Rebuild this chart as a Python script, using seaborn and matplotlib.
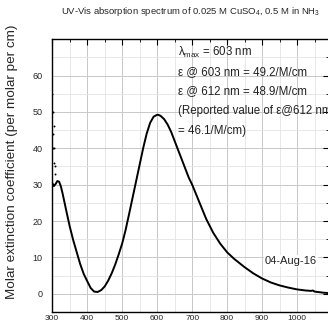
# -*- coding: utf-8 -*-
"""
    UV-Vis absorption spectrum of tetraammine copper(II)
"""
import numpy as np
import pandas as pd
import seaborn as sns
import matplotlib.pyplot as plt
from matplotlib.ticker import MultipleLocator

# Spectrum
wavelength = [300, 305, 310, 315, 320, 325, 330, 340, 350, 360, 370, 380, 390,
              400, 410, 420, 430, 440, 450, 460, 470, 480, 490, 500, 510, 520,
              530, 540, 550, 560, 570, 580, 590, 600, 603, 610, 620, 630, 640,
              650, 660, 670, 680, 690, 700, 720, 740, 760, 780, 800, 820, 850,
              875, 900, 925, 950, 975, 1000, 1025, 1040, 1045, 1050, 1075, 1090]
epsilon = [30.5, 29.6, 30.2, 31.0, 30.8, 29.5, 27.5, 23.0, 18.6, 14.8, 11.5, 8.2,
           5.5, 3.5, 1.6, 0.6, 0.5, 1.0, 2.0, 3.6, 5.6, 8.0, 10.8, 13.8, 17.6,
           22.0, 26.5, 31.0, 35.5, 40.0, 44.0, 47.0, 48.7, 49.2, 49.2, 48.9,
           48.0, 46.5, 44.5, 42.0, 39.5, 37.0, 34.5, 32.0, 30.0, 25.3, 20.6,
           16.8, 13.8, 11.4, 9.6, 7.3, 5.6, 4.2, 3.1, 2.3, 1.7, 1.2, 0.9, 0.8,
           0.9, 0.6, 0.3, 0.2]

# noisy start of the measurement (detector cut-off)
noise_wavelength = [300, 301, 302, 303, 304, 305, 306, 307, 308]
noise_epsilon = [55, 44, 50, 40, 46, 36, 40, 33, 35]

notes = ['$\\lambda_{max}$ = 603 nm',
         '\u03b5 @ 603 nm = 49.2/M/cm',
         '\u03b5 @ 612 nm = 48.9/M/cm',
         '(Reported value of \u03b5@612 nm',
         '= 46.1/M/cm)']
date_label = '04-Aug-16'
title = 'UV-Vis absorption spectrum of 0.025 M CuSO$_4$, 0.5 M in NH$_3$'
ylabel = 'Molar extinction coefficient (per molar per cm)'


def print_spectrum(file='out.png'):
    sns.set_theme(style='white')
    plt.rcParams['font.family'] = ['Liberation Sans', 'DejaVu Sans']
    plt.rcParams['mathtext.fontset'] = 'custom'
    plt.rcParams['mathtext.rm'] = 'Liberation Sans'
    plt.rcParams['mathtext.it'] = 'Liberation Sans'

    data = pd.DataFrame({'wavelength': wavelength, 'epsilon': epsilon})
    noise = pd.DataFrame({'wavelength': noise_wavelength, 'epsilon': noise_epsilon})

    fig = plt.figure(figsize=(3.28, 3.26), dpi=100)
    ax = fig.add_axes([0.159, 0.043, 0.843, 0.837])

    sns.lineplot(data=data, x='wavelength', y='epsilon', color='black',
                 linewidth=1.4, ax=ax, zorder=3)
    sns.scatterplot(data=noise, x='wavelength', y='epsilon', color='black',
                    s=2, linewidth=0, ax=ax, zorder=3)

    ax.set_xlim(300, 1090)
    ax.set_ylim(-5, 70)
    ax.xaxis.set_major_locator(MultipleLocator(100))
    ax.xaxis.set_minor_locator(MultipleLocator(50))
    ax.yaxis.set_major_locator(MultipleLocator(10))
    ax.yaxis.set_minor_locator(MultipleLocator(5))
    ax.set_yticks(np.arange(0, 70, 10))

    ax.grid(which='major', color='#c8c8c8', linewidth=0.7)
    ax.grid(which='minor', color='#e4e4e4', linewidth=0.6)
    ax.tick_params(which='both', direction='in', top=True, right=True,
                   color='black')
    ax.tick_params(axis='x', labelsize=6, pad=2.5)
    ax.tick_params(axis='y', labelsize=6.5, pad=7)
    ax.tick_params(which='major', length=4, width=0.8)
    ax.tick_params(which='minor', length=2, width=0.6)
    for spine in ax.spines.values():
        spine.set_color('black')
        spine.set_linewidth(1.0)

    ax.set_xlabel('')
    ax.set_ylabel(ylabel, fontsize=9.7)
    ax.yaxis.set_label_coords(-0.125, 0.55)
    ax.set_title(title, fontsize=6.8, pad=18)

    for i, note in enumerate(notes):
        ax.text(0.455, 0.952 - i * 0.072, note, transform=ax.transAxes,
                fontsize=8.3, va='center', ha='left', color='#222222')
    ax.text(0.958, 0.187, date_label, transform=ax.transAxes, fontsize=8,
            ha='right', va='center', color='#222222',
            bbox=dict(facecolor='white', edgecolor='none', pad=1))

    fig.savefig(file, dpi=100)


if __name__ == '__main__':
    print_spectrum()
